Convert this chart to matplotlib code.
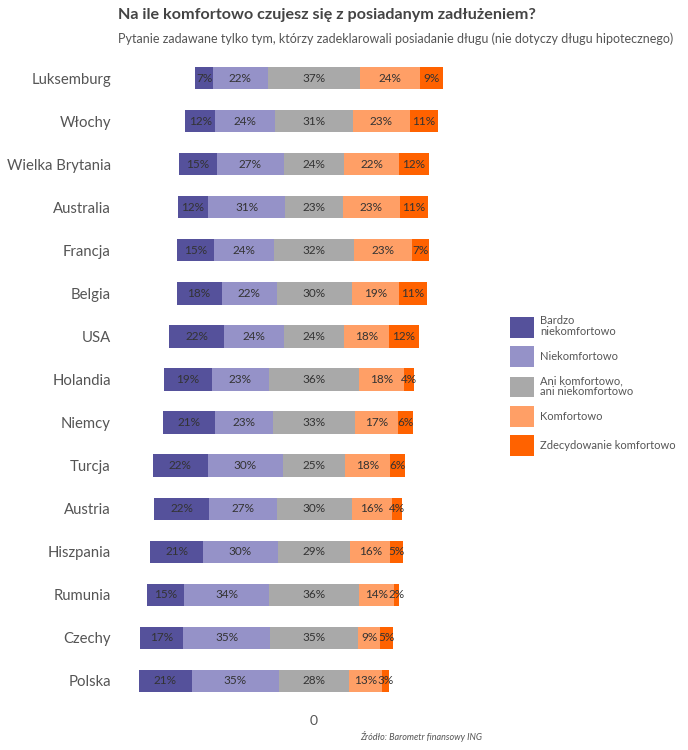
import matplotlib
matplotlib.use("Agg")
import matplotlib.pyplot as plt
from matplotlib.patches import Patch
import numpy as np

plt.rcParams['font.family'] = ['Lato', 'DejaVu Sans']

countries = ["Luksemburg", "Włochy", "Wielka Brytania", "Australia", "Francja", "Belgia",
             "USA", "Holandia", "Niemcy", "Turcja", "Austria", "Hiszpania", "Rumunia",
             "Czechy", "Polska"]
bardzo_niekomf = [7, 12, 15, 12, 15, 18, 22, 19, 21, 22, 22, 21, 15, 17, 21]
niekomf = [22, 24, 27, 31, 24, 22, 24, 23, 23, 30, 27, 30, 34, 35, 35]
ani = [37, 31, 24, 23, 32, 30, 24, 36, 33, 25, 30, 29, 36, 35, 28]
komf = [24, 23, 22, 23, 23, 19, 18, 18, 17, 18, 16, 16, 14, 9, 13]
zdecyd = [9, 11, 12, 11, 7, 11, 12, 4, 6, 6, 4, 5, 2, 5, 3]

series_names = ["Bardzo\nniekomfortowo", "Niekomfortowo", "Ani komfortowo,\nani niekomfortowo",
                "Komfortowo", "Zdecydowanie komfortowo"]
colors = ["#55519b", "#9592c8", "#a9a9a9", "#ff9f66", "#ff6200"]

data = np.array([bardzo_niekomf, niekomf, ani, komf, zdecyd], dtype=float)
y = np.arange(len(countries))
starts = -(data[0] + data[1] + data[2] / 2.0)

fig = plt.figure(figsize=(6.88, 7.5), dpi=100)
ax = fig.add_axes([129/688, 1 - 702.5/750, 370/688, 646/750])

left = starts.copy()
for k in range(5):
    ax.barh(y, data[k], left=left, height=0.52, color=colors[k], edgecolor='none')
    for i in range(len(countries)):
        ax.text(left[i] + data[k][i] / 2.0, y[i], f"{int(data[k][i])}%",
                ha='center', va='center', fontsize=8.5, color='#333333')
    left = left + data[k]

ax.set_xlim(-74, 74)
ax.set_ylim(len(countries) - 0.5, -0.5)
ax.set_yticks(y)
ax.set_yticklabels(countries, fontsize=10.7, color='#555555')
ax.set_xticks([0])
ax.set_xticklabels(["0"], fontsize=10, color='#555555')
ax.tick_params(axis='y', length=0, pad=13)
ax.tick_params(axis='x', length=0, pad=9)
for s in ax.spines.values():
    s.set_visible(False)

handles = [Patch(facecolor=c, edgecolor='none') for c in colors]
leg = ax.legend(handles, series_names, loc='upper left',
                bbox_to_anchor=(510/688, 1 - 315/750), bbox_transform=fig.transFigure,
                frameon=False, fontsize=8, handlelength=2.2, handleheight=2.5,
                handletextpad=0.5, labelspacing=0.75, borderaxespad=0, borderpad=0)
for t in leg.get_texts():
    t.set_color('#555555')
    t.set_linespacing(1.0)

fig.text(118/688, 1 - 15/750, "Na ile komfortowo czujesz się z posiadanym zadłużeniem?",
         fontsize=11.6, fontweight='bold', color='#444444', ha='left', va='center')
fig.text(118/688, 1 - 39/750,
         "Pytanie zadawane tylko tym, którzy zadeklarowali posiadanie długu (nie dotyczy długu hipotecznego)",
         fontsize=9.0, color='#555555', ha='left', va='center')
fig.text(360/688, 1 - 737/750, "Źródło: Barometr finansowy ING", fontsize=6.5,
         style='italic', color='#555555', ha='left', va='center')

fig.savefig("out.png", dpi=100)
